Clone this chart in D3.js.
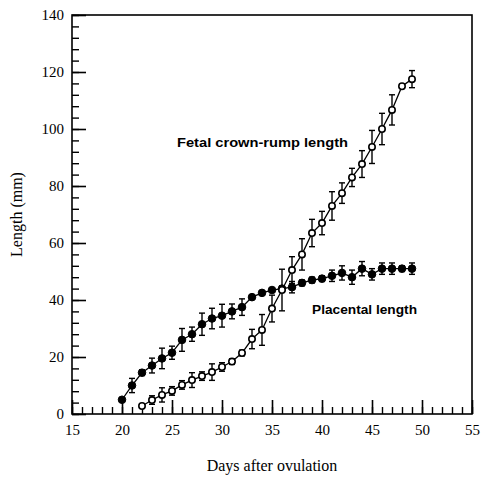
<!DOCTYPE html>
<html><head><meta charset="utf-8">
<script src="https://cdn.jsdelivr.net/npm/d3@7"></script>
<style>
html,body{margin:0;padding:0;background:#fff;}
svg{display:block;}
</style></head>
<body>
<svg id="chart" width="481" height="480"></svg>
<script>
// ---- data ----
const placentalDays = [20,21,22,23,24,25,26,27,28,29,30,31,32,33,34,35,36,37,38,39,40,41,42,43,44,45,46,47,48,49];
const placentalMean = [5,10,14.5,17,19.5,21.5,26,28,31.5,33.5,34.5,36,37.5,41,42.5,43.5,44,44.5,46,47,47.5,48.5,49.5,48,51,49,51,51,51,51];
const placentalErr  = [0,2.5,1,2.6,3.6,2.3,4,2.5,3.9,3.6,4,2.6,2.9,0,0.5,0.5,1,2,1,1,1,2,2.5,2.5,2.5,2,2,2,1,2];
const fetalDays = [22,23,24,25,26,27,28,29,30,31,32,33,34,35,36,37,38,39,40,41,42,43,44,45,46,47,48,49];
const fetalMean = [2.8,4.9,6.7,8.1,10.2,11.9,13.3,14.7,16.5,18.4,21.4,26.3,29.5,37,43.5,50.5,56,63.5,67,73,77.5,83,87.7,93.7,100,106.7,115,117.5];
const fetalErr  = [0,1.5,2.5,1.5,1.5,2.6,1.5,2.9,1.5,1,1,3.4,5.4,4.7,7.3,4.7,5.5,4.8,4.1,5,3.6,3.2,4.7,5.8,5.5,5.3,0,3];
const xTicks = [15,20,25,30,35,40,45,50,55];
const yTicks = [0,20,40,60,80,100,120,140];
const xTitle = "Days after ovulation";
const yTitle = "Length (mm)";
const fetalLabel = "Fetal crown-rump length";
const placentalLabel = "Placental length";

// ---- layout ----
const svg = d3.select("#chart");
const L = 72, R = 472, T = 15, B = 414;
const x = d3.scaleLinear().domain([15,55]).range([L,R]);
const y = d3.scaleLinear().domain([0,140]).range([B,T]);
const serif = "'Liberation Serif','DejaVu Serif',serif";
const sans = "'Liberation Sans',Arial,sans-serif";

// frame
svg.append("rect").attr("x",L).attr("y",T).attr("width",R-L).attr("height",B-T)
  .attr("fill","none").attr("stroke","#000").attr("stroke-width",1.6);

// axes: minor and major ticks pointing inward
const gxMinor = svg.append("g").attr("transform",`translate(0,${B})`)
  .call(d3.axisBottom(x).tickValues(d3.range(15,56,1)).tickSize(-7).tickFormat(""));
const gx = svg.append("g").attr("transform",`translate(0,${B})`)
  .call(d3.axisBottom(x).tickValues(xTicks).tickSize(-14).tickPadding(10).tickFormat(d3.format("d")));
const gyMinor = svg.append("g").attr("transform",`translate(${L},0)`)
  .call(d3.axisLeft(y).tickValues(d3.range(0,141,4)).tickSize(-7).tickFormat(""));
const gy = svg.append("g").attr("transform",`translate(${L},0)`)
  .call(d3.axisLeft(y).tickValues(yTicks).tickSize(-14).tickPadding(8).tickFormat(d3.format("d")));

[gxMinor,gx,gyMinor,gy].forEach(g=>{
  g.attr("font-family",serif).attr("font-size",15);
  g.select(".domain").remove();
  g.selectAll(".tick line").attr("stroke","#000").attr("stroke-width",1.4);
  g.selectAll(".tick text").attr("fill","#000");
});
gx.selectAll(".tick line").attr("stroke-width",1.6);
gy.selectAll(".tick line").attr("stroke-width",1.6);

// titles
svg.append("text").attr("x",(L+R)/2).attr("y",471).attr("text-anchor","middle")
  .attr("font-family",serif).attr("font-size",16).text(xTitle);
svg.append("text").attr("transform",`translate(22,${(T+B)/2}) rotate(-90)`).attr("text-anchor","middle")
  .attr("font-family",serif).attr("font-size",16).text(yTitle);

// series
function drawSeries(days, mean, err, filled){
  const data = days.map((d,i)=>({d, m:mean[i], e:err[i]}));
  const g = svg.append("g");
  g.append("path").datum(data)
    .attr("d", d3.line().x(p=>x(p.d)).y(p=>y(p.m)))
    .attr("fill","none").attr("stroke","#000").attr("stroke-width",1.3);
  const eb = g.selectAll(".eb").data(data.filter(p=>p.e>0)).join("g");
  eb.append("line").attr("x1",p=>x(p.d)).attr("x2",p=>x(p.d))
    .attr("y1",p=>y(p.m+p.e)).attr("y2",p=>y(p.m-p.e)).attr("stroke","#000").attr("stroke-width",1.4);
  [1,-1].forEach(s=>{
    eb.append("line").attr("x1",p=>x(p.d)-3).attr("x2",p=>x(p.d)+3)
      .attr("y1",p=>y(p.m+s*p.e)).attr("y2",p=>y(p.m+s*p.e)).attr("stroke","#000").attr("stroke-width",1.4);
  });
  g.selectAll("circle").data(data).join("circle")
    .attr("cx",p=>x(p.d)).attr("cy",p=>y(p.m)).attr("r",filled?3.8:3.2)
    .attr("fill",filled?"#000":"#fff").attr("stroke","#000").attr("stroke-width",filled?1:1.6);
}
drawSeries(placentalDays, placentalMean, placentalErr, true);
drawSeries(fetalDays, fetalMean, fetalErr, false);

// labels
svg.append("text").attr("x",177).attr("y",147).attr("font-family",sans).attr("font-weight","bold")
  .attr("font-size",12).attr("textLength",171).attr("lengthAdjust","spacingAndGlyphs").text(fetalLabel);
svg.append("text").attr("x",312).attr("y",314).attr("font-family",sans).attr("font-weight","bold")
  .attr("font-size",12).attr("textLength",105).attr("lengthAdjust","spacingAndGlyphs").text(placentalLabel);
</script>
</body></html>
